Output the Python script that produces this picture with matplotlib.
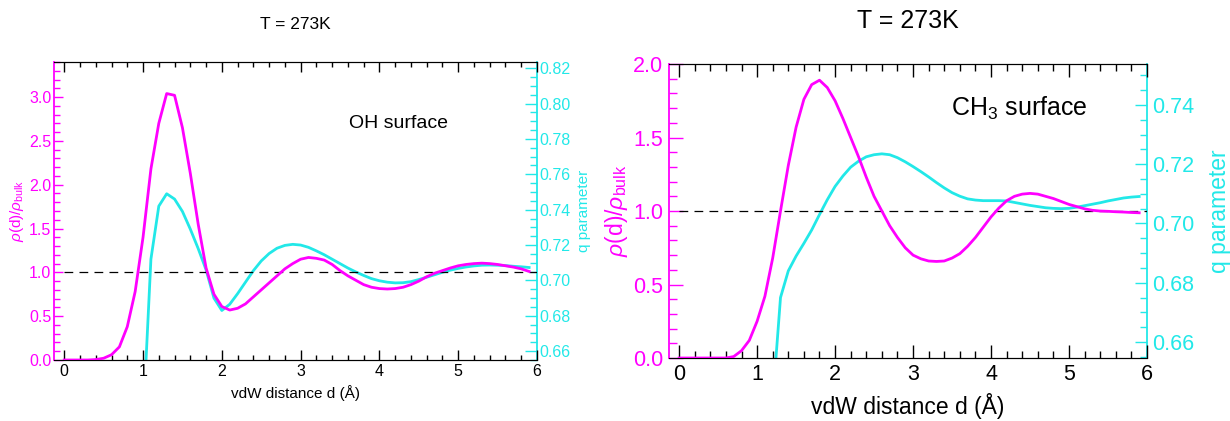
import numpy as np
import matplotlib
matplotlib.use("Agg")
import matplotlib.pyplot as plt
from matplotlib.ticker import MultipleLocator, FormatStrFormatter

plt.rcParams['font.family'] = ['Liberation Sans', 'DejaVu Sans']
plt.rcParams['mathtext.fontset'] = 'custom'
plt.rcParams['mathtext.rm'] = 'Liberation Sans'
plt.rcParams['mathtext.it'] = 'Liberation Sans:italic'

MAGENTA = '#ff00ff'
CYAN = '#22e8e8'

# vdW distance grid (Å), step 0.1
d = np.round(np.arange(0, 5.95, 0.1), 1)

# OH surface
rho_oh = [0, 0, 0, 0, 0.005, 0.02, 0.06, 0.15, 0.38, 0.78,
          1.40, 2.18, 2.70, 3.04, 3.02, 2.65, 2.13, 1.55, 1.05, 0.75,
          0.61, 0.57, 0.59, 0.64, 0.72, 0.80, 0.88, 0.96, 1.04, 1.10,
          1.15, 1.17, 1.16, 1.14, 1.09, 1.02, 0.96, 0.91, 0.86, 0.83,
          0.815, 0.81, 0.815, 0.83, 0.86, 0.90, 0.95, 0.99, 1.02, 1.05,
          1.075, 1.09, 1.10, 1.105, 1.10, 1.09, 1.075, 1.06, 1.04, 1.01]
q_oh_start = 10  # q defined from d = 1.0
q_oh = [0.620, 0.712, 0.742, 0.749, 0.746, 0.739, 0.729, 0.718, 0.706, 0.690,
        0.683, 0.6865, 0.6925, 0.6990, 0.7055, 0.7110, 0.7152, 0.7182, 0.7198, 0.7204,
        0.7200, 0.7187, 0.7167, 0.7145, 0.7120, 0.7095, 0.7070, 0.7048, 0.7028, 0.7010,
        0.6998, 0.6990, 0.6986, 0.6987, 0.6993, 0.7005, 0.7018, 0.7032, 0.7046, 0.7058,
        0.7068, 0.7076, 0.7082, 0.7086, 0.7087, 0.7086, 0.7084, 0.7080, 0.7077, 0.7073]

# CH3 surface
rho_ch3 = [0, 0, 0, 0, 0, 0, 0, 0.01, 0.05, 0.12,
           0.25, 0.42, 0.68, 1.00, 1.31, 1.57, 1.76, 1.86, 1.89, 1.84,
           1.75, 1.63, 1.50, 1.37, 1.23, 1.10, 1.00, 0.90, 0.82, 0.75,
           0.70, 0.675, 0.66, 0.657, 0.66, 0.68, 0.71, 0.76, 0.82, 0.89,
           0.96, 1.02, 1.07, 1.10, 1.115, 1.12, 1.115, 1.10, 1.085, 1.065,
           1.045, 1.03, 1.015, 1.005, 1.0, 0.998, 0.995, 0.993, 0.99, 0.988]
q_ch3_start = 12  # q defined from d = 1.2
q_ch3 = [0.640, 0.675, 0.684, 0.689, 0.6933, 0.6978, 0.703, 0.708,
         0.7125, 0.716, 0.719, 0.721, 0.7225, 0.7232, 0.7235, 0.7232, 0.7222, 0.7208,
         0.7192, 0.7175, 0.7157, 0.7138, 0.7120, 0.7104, 0.7092, 0.7083, 0.7079, 0.7077,
         0.7077, 0.7077, 0.7076, 0.7071, 0.7066, 0.7061, 0.7057, 0.7053, 0.7051, 0.7050,
         0.7051, 0.7055, 0.7060, 0.7065, 0.7070, 0.7076, 0.7081, 0.7086, 0.7089, 0.7091]

bulk_ref = 1.0


def draw_panel(rect, rho, q, q_start, ylim, qlim, qticks, title, label, label_xy, s):
    ax = fig.add_axes(rect)
    ax2 = ax.twinx()
    ax.set_zorder(ax2.get_zorder() + 1)
    ax.patch.set_visible(False)

    ax.plot(d, rho, color=MAGENTA, lw=2.0, zorder=3)
    ax2.plot(d[q_start:], q, color=CYAN, lw=2.0)
    ax.hlines(bulk_ref, d[0], 6, colors='k', linestyles=(0, (7, 5)), lw=0.9)

    ax.set_xlim(-0.13, 6.0)
    ax.set_ylim(*ylim)
    ax2.set_ylim(*qlim)

    ax.xaxis.set_major_locator(MultipleLocator(1))
    ax.xaxis.set_minor_locator(MultipleLocator(0.2))
    ax.yaxis.set_major_locator(MultipleLocator(0.5))
    ax.yaxis.set_minor_locator(MultipleLocator(0.1))
    ax.yaxis.set_major_formatter(FormatStrFormatter('%.1f'))
    ax2.yaxis.set_major_locator(MultipleLocator(qticks))
    ax2.yaxis.set_minor_locator(MultipleLocator(0.005))
    ax2.yaxis.set_major_formatter(FormatStrFormatter('%.2f'))

    ax.tick_params(axis='x', which='both', direction='in', top=True, bottom=True,
                   labelsize=s['tick'], pad=s['xpad'], width=1)
    ax.tick_params(axis='x', which='major', length=s['xmaj'])
    ax.tick_params(axis='x', which='minor', length=s['xmin'])
    ax.tick_params(axis='y', which='both', direction='in', left=True, right=False,
                   colors=MAGENTA, labelsize=s['tick'], pad=s['ypad'], width=1)
    ax.tick_params(axis='y', which='major', length=s['ymaj'])
    ax.tick_params(axis='y', which='minor', length=s['ymin'])
    ax2.tick_params(axis='y', which='both', direction='in', colors=CYAN,
                    labelsize=s['tick'], pad=s['qpad'], width=1)
    ax2.tick_params(axis='y', which='major', length=s['qmaj'])
    ax2.tick_params(axis='y', which='minor', length=s['qmin'])

    ax.spines['left'].set_color(MAGENTA)
    ax.spines['left'].set_linewidth(1.3)
    ax2.spines['right'].set_color(CYAN)
    ax2.spines['right'].set_linewidth(1.3)
    ax2.spines['left'].set_visible(False)
    ax.spines['right'].set_visible(False)

    ax.set_xlabel('vdW distance d (Å)', fontsize=s['label'], labelpad=s['xlpad'])
    ax.set_ylabel(r'$\rho$(d)/$\rho_{\mathrm{bulk}}$', color=MAGENTA,
                  fontsize=s['label'], labelpad=s['ylpad'])
    ax2.set_ylabel('q parameter', color=CYAN, fontsize=s['label'],
                   labelpad=s['qlpad'])
    ax.set_title(title, fontsize=s['title'], pad=s['tpad'])
    ax.text(label_xy[0], label_xy[1], label, fontsize=s['text'],
            ha='center', va='center')
    return ax


fig = plt.figure(figsize=(12.3, 4.21), dpi=100)

small = dict(tick=11.5, label=11, title=12.5, text=14, xpad=3, ypad=2, qpad=2,
             xmaj=7, xmin=3.5, ymaj=6.5, ymin=4, qmaj=9, qmin=5,
             xlpad=4, ylpad=2, qlpad=4, tpad=24)
big = dict(tick=15.5, label=16.5, title=18, text=18, xpad=4, ypad=4, qpad=3.5,
           xmaj=9.5, xmin=4.8, ymaj=10, ymin=5.8, qmaj=8.4, qmin=4.8,
           xlpad=6, ylpad=2, qlpad=10, tpad=26)

draw_panel([0.0439, 0.1449, 0.3927, 0.7078], rho_oh, q_oh, q_oh_start,
           (0, 3.4), (0.655, 0.8235), 0.02, 'T = 273K', 'OH surface', (4.24, 2.7), small)
draw_panel([0.5439, 0.1496, 0.3886, 0.6983], rho_ch3, q_ch3, q_ch3_start,
           (0, 2.0), (0.6546, 0.7538), 0.02, 'T = 273K', 'CH$_3$ surface', (4.36, 1.70), big)

fig.savefig('out.png', dpi=100)
